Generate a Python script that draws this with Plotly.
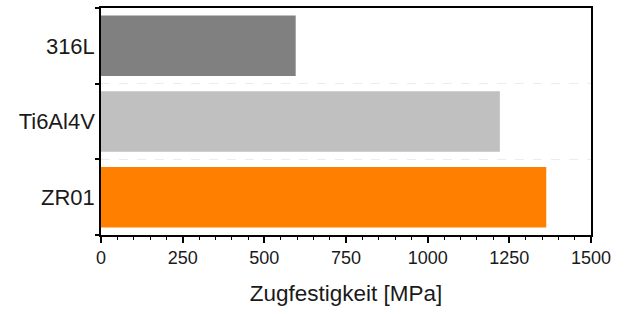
import plotly.graph_objects as go

categories = ["316L", "Ti6Al4V", "ZR01"]
values = [596, 1221, 1363]
colors = ["#808080", "#c0c0c0", "#ff8000"]
x_ticks = [0, 250, 500, 750, 1000, 1250, 1500]

fig = go.Figure(go.Bar(
    x=values, y=categories, orientation="h",
    marker=dict(color=colors, line=dict(width=0)),
    width=0.8,
))

family = "Liberation Sans, Arial, sans-serif"
dark = "#1a1a1a"

fig.update_layout(
    width=630, height=314,
    margin=dict(l=101, r=39, t=8, b=79, autoexpand=False),
    plot_bgcolor="white", paper_bgcolor="white",
    font=dict(family=family, size=18, color=dark), showlegend=False,
)
fig.update_xaxes(
    range=[0, 1500], tickvals=x_ticks, ticktext=[str(v) for v in x_ticks],
    ticks="outside", ticklen=6, tickwidth=1.5, tickcolor="black",
    minor=dict(dtick=50, ticks="outside", ticklen=3, tickwidth=1, tickcolor="black", showgrid=False),
    showline=True, linecolor="black", linewidth=1.5, mirror=True,
    showgrid=False, zeroline=False, automargin=False,
    title=dict(text="Zugfestigkeit [MPa]", standoff=18, font=dict(family=family, size=22.5, color=dark)),
    tickfont=dict(family=family, size=18, color=dark),
)
fig.update_yaxes(
    categoryorder="array", categoryarray=categories[::-1],
    tickson="boundaries", ticks="outside", ticklen=4, tickwidth=1.5, tickcolor="black",
    showline=True, linecolor="black", linewidth=1.5, mirror=True,
    showgrid=True, gridcolor="#ececec", griddash="dash", gridwidth=1,
    zeroline=False, automargin=False,
    tickfont=dict(family=family, size=22, color=dark),
)

fig.write_html("out.html", config={"displayModeBar": False},
               post_script="document.body.style.margin='0';")
